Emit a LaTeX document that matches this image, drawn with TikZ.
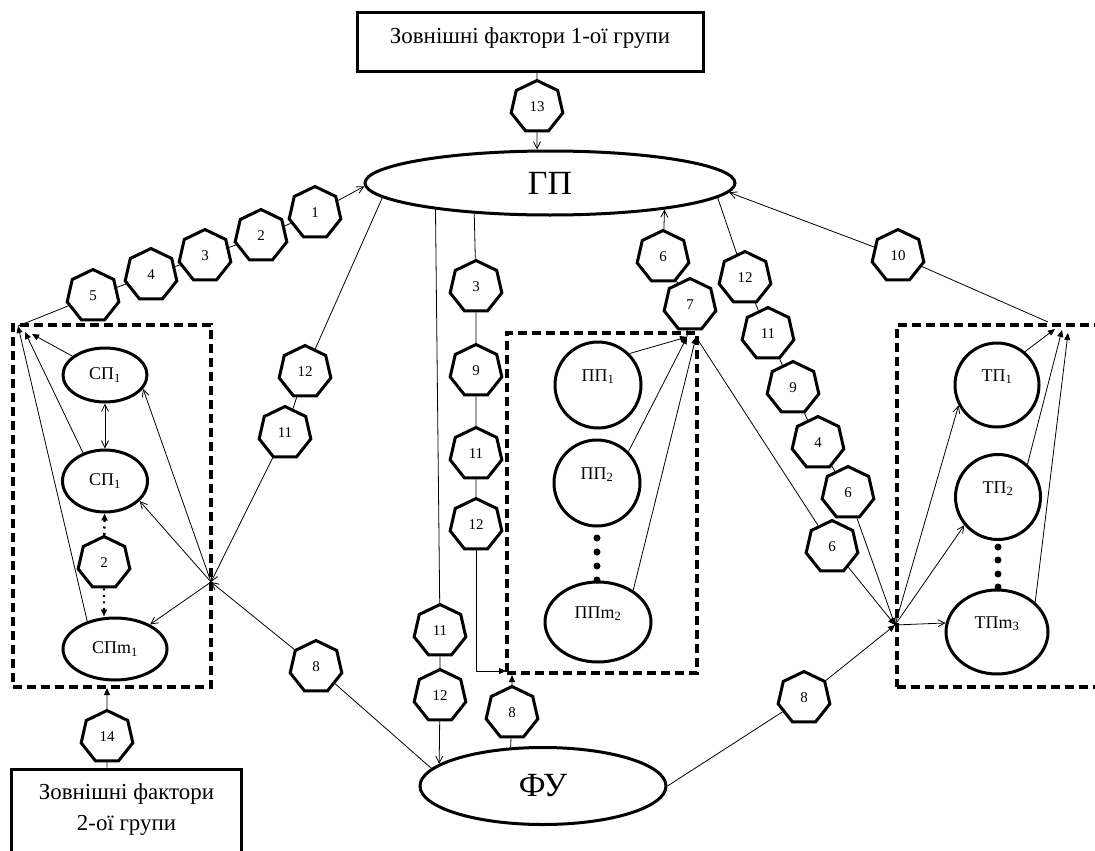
\documentclass[tikz,border=0pt]{standalone}
\usepackage{fontspec}
\setmainfont{Liberation Serif}
\usetikzlibrary{shapes.geometric,arrows.meta}

\tikzset{
  hep/.style={draw, fill=white, regular polygon, regular polygon sides=7, minimum size=53bp, inner sep=0pt, line width=3bp, font=\fontsize{15}{17}\selectfont},
  el/.style={draw, ellipse, inner sep=0pt, line width=3bp, font=\fontsize{18}{20}\selectfont},
  ci/.style={draw, circle, inner sep=0pt, line width=3bp, minimum size=86bp, font=\fontsize{18}{20}\selectfont},
  raised/.style={text height=12bp, text depth=20bp},
  big/.style={font=\fontsize{34}{36}\selectfont},
  fbox/.style={draw, rectangle, line width=3bp, font=\fontsize{23}{32}\selectfont},
  grp/.style={draw, rectangle, line width=3.2bp, dash pattern=on 9bp off 5bp, inner sep=0pt},
  fil/.style={-{Triangle[length=7bp,width=6bp]}},
  dotln/.style={line width=2.4bp, dash pattern=on 2bp off 4.5bp}
}

\begin{document}
\begin{tikzpicture}[x=1bp, y=-1bp, line width=0.8bp, >={Straight Barb[length=7bp,width=7bp]}]
\useasboundingbox (0,0) rectangle (1095,851);
\clip (0,0) rectangle (1095,851);

\node[grp, minimum width=198bp, minimum height=362bp] (spgrp) at (112,506) {};
\node[grp, minimum width=190bp, minimum height=340bp] (ppgrp) at (602,503) {};
\node[grp, minimum width=216bp, minimum height=362bp] (tpgrp) at (1005,506) {};

\node[fbox, minimum width=346bp, minimum height=58bp, text height=16bp, text depth=13bp] (f1) at (530,42) {Зовнішні фактори 1-ої групи};
\node[fbox, minimum width=229bp, minimum height=108bp, align=center] (f2) at (126.5,823) {Зовнішні фактори\\2-ої групи\\\mbox{}};

\node[el, big, minimum width=370bp, minimum height=64bp] (GP) at (550,183) {ГП};
\node[el, big, minimum width=246bp, minimum height=77bp] (FU) at (543,786) {ФУ};

\node[el, minimum width=84bp, minimum height=54bp] (sp1) at (105,375) {СП\textsubscript{1}};
\node[el, minimum width=85bp, minimum height=62bp] (sp2) at (105,481) {СП\textsubscript{1}};
\node[el, minimum width=104bp, minimum height=62bp] (spm) at (115,649) {СПm\textsubscript{1}};

\node[ci, raised] (pp1) at (598,385) {ПП\textsubscript{1}};
\node[ci, raised] (pp2) at (597,483) {ПП\textsubscript{2}};
\node[el, raised, minimum width=106bp, minimum height=80bp] (ppm) at (598,622) {ППm\textsubscript{2}};

\node[ci, raised, minimum size=84bp] (tp1) at (997,385) {ТП\textsubscript{1}};
\node[ci, raised, minimum size=85bp] (tp2) at (998,497) {ТП\textsubscript{2}};
\node[el, raised, minimum width=102bp, minimum height=84bp] (tpm) at (997,632) {ТПm\textsubscript{3}};

\node[hep] (h13) at (537,107) {13};
\node[hep] (h5) at (93,296) {5};
\node[hep] (h4) at (151,275) {4};
\node[hep] (h3) at (205,256) {3};
\node[hep] (h2) at (261,236) {2};
\node[hep] (h1) at (315,213) {1};
\node[hep] (h12l) at (305,372) {12};
\node[hep] (h11l) at (285,433) {11};
\node[hep] (h8l) at (316,667) {8};
\node[hep] (h2s) at (104,563) {2};
\node[hep] (h14) at (107,737) {14};
\node[hep] (h3m) at (476,287) {3};
\node[hep] (h9m) at (476,371) {9};
\node[hep] (h11m) at (476,454) {11};
\node[hep] (h12m) at (476,525) {12};
\node[hep] (h11d) at (440,631) {11};
\node[hep] (h12d) at (440,696) {12};
\node[hep] (h8m) at (512,713) {8};
\node[hep] (h6u) at (663,257) {6};
\node[hep] (h7) at (690,305) {7};
\node[hep] (h12r) at (745,278) {12};
\node[hep] (h11r) at (768,334) {11};
\node[hep] (h9r) at (793,388) {9};
\node[hep] (h4r) at (818,443) {4};
\node[hep] (h6r) at (848,493) {6};
\node[hep] (h6d) at (832,547) {6};
\node[hep] (h10) at (898,256) {10};
\node[hep] (h8r) at (804,698) {8};

\coordinate (cL) at (18,326);
\coordinate (cL2) at (25,332);
\coordinate (cL3) at (32,334);
\coordinate (J1) at (211,582);
\coordinate (lgS) at (107,688);
\coordinate (ppA) at (687,337);
\coordinate (ppB) at (696,337);
\coordinate (ppC) at (506,671);
\coordinate (ppD) at (512,675);
\coordinate (J2) at (895,625);
\coordinate (tpA) at (1055,329);
\coordinate (tpB) at (1062,330);
\coordinate (tpC) at (1068,333);
\coordinate (tpO) at (1048,322);

\draw (f1.south -| h13) -- (h13);
\draw[->] (h13) -- (GP.north -| h13);
\draw[->] (cL) -- (h5) -- (h4) -- (h3) -- (h2) -- (h1) -- (GP.181);
\draw[->] (GP.185) -- (h12l) -- (h11l) -- (J1);
\draw[->] (FU.171) -- (h8l) -- (J1);
\draw[->] (J1) -- (sp1.-20);
\draw[->] (J1) -- (sp2.-30);
\draw[->] (J1) -- (spm.35);
\draw[fil] (sp1.150) -- (cL3);
\draw[fil] (sp2.128) -- (cL2);
\draw[fil] (spm.135) -- (cL);
\draw[<->] (sp1) -- (sp2);
\draw[dotln, fil] (h2s) -- (sp2);
\draw[dotln, fil] (h2s) -- (spm.north -| h2s);
\draw (f2.north -| h14) -- (h14);
\draw[fil] (h14) -- (lgS);

\draw[->] (GP.193) -- (h11d) -- (h12d) -- (FU.168);
\draw (GP.202) -- (h3m) -- (h9m) -- (h11m) -- (h12m);
\draw[fil] (h12m) |- (ppC);
\draw[fil] (FU.130) -- (h8m) -- (ppD);
\draw[fil] (pp1.45) -- (ppA);
\draw[fil] (pp2.45) -- (ppA);
\draw[fil] (ppm.42) -- (ppB);
\draw[->] (ppA) -- (h7) -- (h6u) -- (GP.347);
\foreach \y in {538,552,566,580} \fill (597,\y) circle (3.5bp);

\draw[fil] (GP.355) -- (h12r) -- (h11r) -- (h9r) -- (h4r) -- (h6r) -- (J2);
\draw[fil] (ppB) -- (h6d) -- (J2);
\draw[fil] (FU.east) -- (h8r) -- (J2);
\draw[->] (J2) -- (tp1.208);
\draw[->] (J2) -- (tp2.220);
\draw[->] (J2) -- (tpm.170);
\draw[fil] (tp1.50) -- (tpA);
\draw[fil] (tp2.48) -- (tpB);
\draw[fil] (tpm.38) -- (tpC);
\draw[->] (tpO) -- (h10) -- (GP.357);
\foreach \y in {547,560,574,587} \fill (998,\y) circle (3.5bp);
\end{tikzpicture}
\end{document}
